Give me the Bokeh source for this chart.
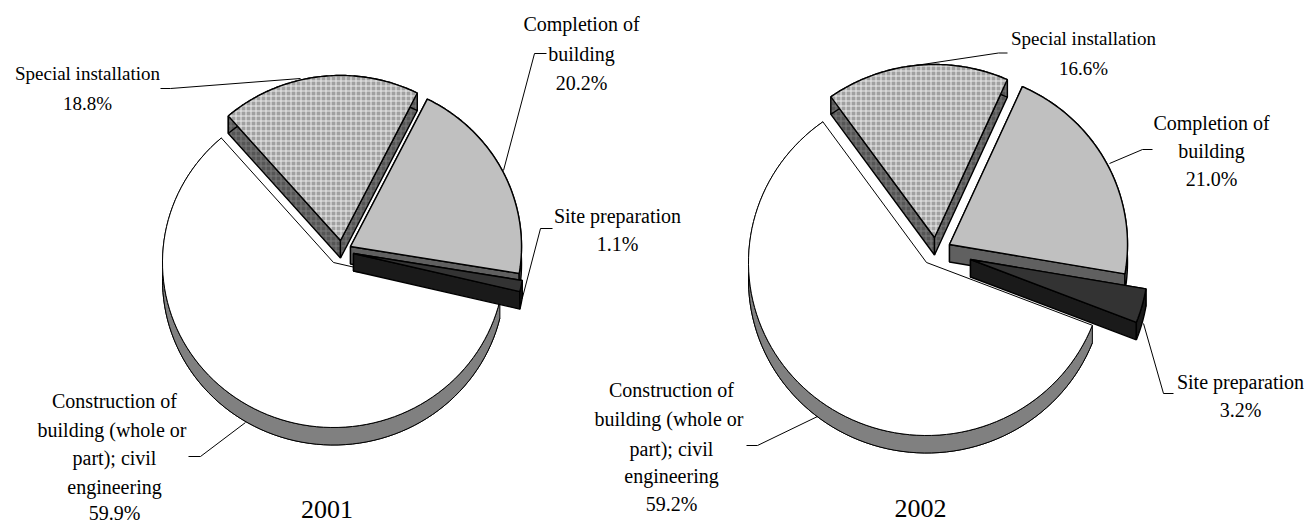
import numpy as np
from bokeh.core.properties import value
from bokeh.embed import file_html
from bokeh.models import Range1d
from bokeh.plotting import figure
from bokeh.resources import INLINE

categories = ["Special installation", "Completion of building", "Site preparation",
              "Construction of building (whole or part); civil engineering"]
years = ["2001", "2002"]
values_2001 = [18.8, 20.2, 1.1, 59.9]
values_2002 = [16.6, 21.0, 3.2, 59.2]

# styling and layout of the two exploded pies
top_fill = ["#a0a0a0", "#c0c0c0", "#333333", "#ffffff"]
wall_fill = ["#555555", "#606060", "#1a1a1a", "#808080"]
depth = 17.5
grid_step = 5

# (centre x, centre y) per slice, radii, first-slice angle
pie_2001 = dict(centers=[(340, 240), (350, 246), (353, 253), (333, 262)], rx=171, ry=165, a0=131.0)
pie_2002 = dict(centers=[(934, 237), (949, 244), (970, 259), (926, 262)], rx=178, ry=173, a0=125.6)

labels = [
    (["Special installation", "18.8%"], 87, [73, 103], 19),
    (["Completion of", "building", "20.2%"], 581, [23, 53, 82], 20),
    (["Site preparation", "1.1%"], 617, [215, 243], 20),
    (["Construction of", "building  (whole or", "part); civil", "engineering", "59.9%"], 114, [400, 429, 457, 486, 512], 20),
    (["Special installation", "16.6%"], 1083, [38, 68], 19),
    (["Completion of", "building", "21.0%"], 1211, [122, 150, 178], 20),
    (["Site preparation", "3.2%"], 1240, [381, 409], 20),
    (["Construction of", "building  (whole or", "part); civil", "engineering", "59.2%"], 671, [389, 418, 448, 475, 503], 20),
]
leaders = [
    ([160, 170, 300], [88, 88, 78]),
    ([503, 534, 546], [170, 53, 53]),
    ([522, 540, 552], [297, 228, 228]),
    ([245, 200, 188], [422, 456, 456]),
    ([915, 998, 1007], [65, 52.5, 52.5]),
    ([1109, 1142, 1152], [163, 149, 149]),
    ([1143, 1163, 1173], [323, 393, 393]),
    ([817, 757, 746], [416, 445, 445]),
]

p = figure(width=1306, height=524, x_range=Range1d(0, 1306), y_range=Range1d(524, 0),
           output_backend="svg", toolbar_location=None, min_border=0,
           x_axis_location=None, y_axis_location=None, outline_line_color=None)
p.grid.visible = False


def crossings(xs, ys, level):
    """Positions where a closed polygon (xs, ys) crosses the line ys == level."""
    out = []
    n = len(xs)
    for k in range(n):
        y0, y1 = ys[k], ys[(k + 1) % n]
        if (y0 <= level) != (y1 <= level):
            x0, x1 = xs[k], xs[(k + 1) % n]
            out.append(x0 + (level - y0) / (y1 - y0) * (x1 - x0))
    return sorted(out)


def lattice(xs, ys, colour):
    mx, my = [], []
    first_y = np.floor(min(ys) / grid_step) * grid_step + 0.5
    first_x = np.floor(min(xs) / grid_step) * grid_step + 0.5
    for level in np.arange(first_y, max(ys), grid_step):
        c = crossings(xs, ys, level)
        for a, b in zip(c[0::2], c[1::2]):
            mx.append([a, b])
            my.append([level, level])
    for level in np.arange(first_x, max(xs), grid_step):
        c = crossings(ys, xs, level)
        for a, b in zip(c[0::2], c[1::2]):
            my.append([a, b])
            mx.append([level, level])
    p.multi_line(mx, my, line_color=colour, line_width=1)


def poly(xs, ys, fill, hatch=None, lw=1.0):
    xs, ys = np.asarray(xs, float), np.asarray(ys, float)
    p.patch(list(xs), list(ys), fill_color=fill, line_color=None)
    if hatch:
        lattice(xs, ys, hatch)
    p.patch(list(xs), list(ys), fill_color=None, line_color="#000000", line_width=lw)


def draw_pie(vals, cfg):
    # draw order: big white slice first, then clockwise slices over it
    angles = [cfg["a0"]]
    for v in vals:
        angles.append(angles[-1] - v * 3.6)
    spans = list(zip(angles[:-1], angles[1:]))
    for i in [3, 0, 1, 2]:
        (cx, cy), (a, b) = cfg["centers"][i], spans[i]
        t = np.radians(np.linspace(a, b, 90))
        ax = cx + cfg["rx"] * np.cos(t)
        ay = cy - cfg["ry"] * np.sin(t)
        xs = np.r_[cx, ax]
        ys = np.r_[cy, ay]
        hatch = "#7c7c7c" if i == 0 else None
        lw = 1.0 if i == 3 else 1.4
        if i == 3:
            poly(xs, ys + depth, wall_fill[i], lw=lw)
        else:
            poly([cx, ax[0], ax[0], cx], [cy, ay[0], ay[0] + depth, cy + depth], wall_fill[i], hatch, lw)
            poly([cx, ax[-1], ax[-1], cx], [cy, ay[-1], ay[-1] + depth, cy + depth], wall_fill[i], hatch, lw)
        poly(np.r_[ax, ax[::-1]], np.r_[ay, ay[::-1] + depth], wall_fill[i], hatch, lw)
        poly(xs, ys, top_fill[i], "#ececec" if i == 0 else None, lw)


draw_pie(values_2001, pie_2001)
draw_pie(values_2002, pie_2002)

for xs, ys in leaders:
    p.line(xs, ys, line_color="#000000", line_width=1)

font = value("Liberation Serif")
for lines, x, ys, size in labels:
    p.text([x] * len(lines), ys, text=lines, text_font=font, text_font_size=f"{size}px",
           text_align="center", text_baseline="middle", text_color="#000000")
p.text([326.5, 920], [509, 508], text=years, text_font=font, text_font_size="26px",
       text_align="center", text_baseline="middle", text_color="#000000")

open("out.html", "w").write(file_html(p, INLINE))
